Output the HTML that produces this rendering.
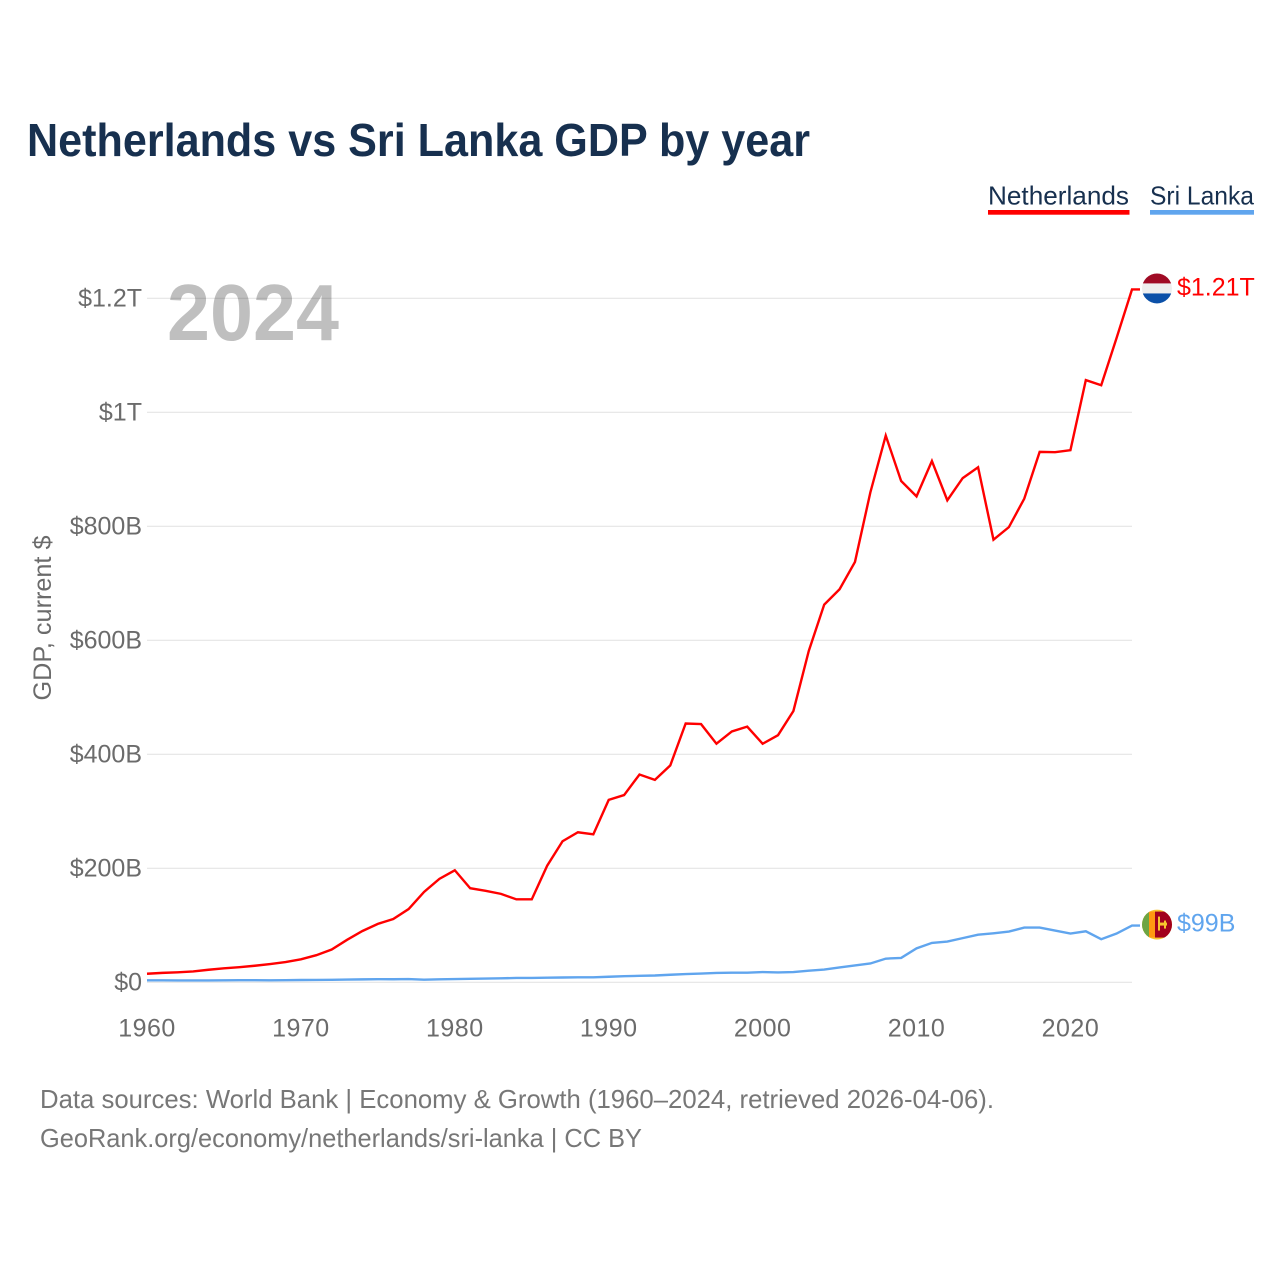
<!DOCTYPE html>
<html lang="en">
<head>
<meta charset="utf-8">
<title>Netherlands vs Sri Lanka GDP by year</title>
<style>
html,body{margin:0;padding:0;background:#fff;}
svg{display:block;font-family:"Liberation Sans",sans-serif;}
</style>
</head>
<body>
<svg id="chart" xmlns="http://www.w3.org/2000/svg" width="1280" height="1280" viewBox="0 0 1280 1280">
<defs>
<clipPath id="flag-clip"><circle cx="0" cy="0" r="15"/></clipPath>
</defs>
<rect x="0" y="0" width="1280" height="1280" fill="#ffffff"/>
<text x="27" y="156" font-size="46" font-weight="700" fill="#17304f" textLength="783" lengthAdjust="spacingAndGlyphs">Netherlands vs Sri Lanka GDP by year</text>
<g>
<g>
<text x="988" y="204.500" font-size="26" fill="#17304f" textLength="141" lengthAdjust="spacingAndGlyphs">Netherlands</text>
<rect x="988" y="210" width="141.500" height="4.700" fill="#ff0000"/>
</g>
<g>
<text x="1150" y="204.500" font-size="26" fill="#17304f" textLength="104" lengthAdjust="spacingAndGlyphs">Sri Lanka</text>
<rect x="1150" y="210" width="104" height="4.700" fill="#60a5ee"/>
</g>
</g>
<text transform="translate(51,618) rotate(-90)" text-anchor="middle" font-size="25" fill="#6b6b6b" textLength="165" lengthAdjust="spacingAndGlyphs">GDP, current $</text>
<g id="grid"></g>
<g id="y-ticks"></g>
<g id="x-ticks"></g>
<text x="167" y="340" font-size="80" font-weight="700" fill="#000000" fill-opacity="0.25" textLength="172" lengthAdjust="spacingAndGlyphs">2024</text>
<g id="series"></g>
<g id="flag-nl">
<g clip-path="url(#flag-clip)">
<rect x="-15" y="-15" width="30" height="10" fill="#a00b25"/>
<rect x="-15" y="-5" width="30" height="10" fill="#eeeeee"/>
<rect x="-15" y="5" width="30" height="10" fill="#0b50a8"/>
</g>
</g>
<g id="flag-lk">
<g clip-path="url(#flag-clip)">
<rect x="-15" y="-15" width="30" height="30" fill="#f7c52e"/>
<rect x="-15" y="-13" width="7" height="26" fill="#6da544"/>
<rect x="-8" y="-13" width="6" height="26" fill="#ff9811"/>
<rect x="-2" y="-13" width="17" height="26" fill="#a2001d"/>
<rect x="3" y="-2" width="7" height="3" fill="#f7c52e"/>
<rect x="1" y="-8" width="2" height="14" fill="#f7c52e"/>
<rect x="7" y="-4" width="2" height="8" fill="#f7c52e"/>
</g>
</g>
<g id="value-labels"></g>
<text x="40" y="1108" font-size="26" fill="#777777" textLength="954" lengthAdjust="spacingAndGlyphs">Data sources: World Bank | Economy &amp; Growth (1960–2024, retrieved 2026-04-06).</text>
<text x="40" y="1147" font-size="26" fill="#777777" textLength="602" lengthAdjust="spacingAndGlyphs">GeoRank.org/economy/netherlands/sri-lanka | CC BY</text>
</svg>
<script>
var years = [1960,1961,1962,1963,1964,1965,1966,1967,1968,1969,1970,1971,1972,1973,1974,1975,1976,1977,1978,1979,1980,1981,1982,1983,1984,1985,1986,1987,1988,1989,1990,1991,1992,1993,1994,1995,1996,1997,1998,1999,2000,2001,2002,2003,2004,2005,2006,2007,2008,2009,2010,2011,2012,2013,2014,2015,2016,2017,2018,2019,2020,2021,2022,2023,2024];
var netherlandsGdp = [14.5,16,17,18.5,21.5,24,26,28.5,31.5,35,39.8,47,57,74,89.5,102,110.5,128,158,181,196,164.5,160,154.6,145,145,204,247,262.7,259,319.5,328,364,354.6,380,453.5,452.5,418,439.5,448,418,433,475.5,581,662,689,737,859,958.6,879,852,914,845,884,903,776,798,848,930,929.5,933,1056,1047,1130,1215];
var sriLankaGdp = [3,3,2.8,2.7,2.8,3,3.1,3.2,3,3.2,3.5,3.7,3.9,4.2,4.6,4.9,4.8,5.2,4,4.7,5.2,5.6,6,6.4,7.2,7.2,7.6,7.9,8.2,8.2,9.2,10.2,10.8,11.4,12.7,14,14.8,15.9,16.4,16.4,17.4,16.7,17.5,19.8,21.8,25.5,29,32.5,41,42.3,59,68.6,71,77,83,85.5,88.5,95.5,95.5,90.2,85,89,75,85,99];
var yTickValues = [0,200,400,600,800,1000,1200];
var yTickLabels = ["$0","$200B","$400B","$600B","$800B","$1T","$1.2T"];
var xTickValues = [1960,1970,1980,1990,2000,2010,2020];
var netherlandsEndLabel = "$1.21T";
var sriLankaEndLabel = "$99B";

var SVG_NS = "http://www.w3.org/2000/svg";
function xScale(year){ return 147 + (year - 1960) * (1132 - 147) / (2024 - 1960); }
function yScale(value){ return 982 - value * (982 - 298) / 1200; }
function createSvg(tag){ return document.createElementNS(SVG_NS, tag); }

var gridGroup = document.getElementById("grid");
var yTickGroup = document.getElementById("y-ticks");
yTickValues.forEach(function(value, i){
  var line = createSvg("line");
  
  
  line.setAttribute("x1", 147);
  line.setAttribute("x2", 1132);
  line.setAttribute("y1", yScale(value) + 0.3);
  line.setAttribute("y2", yScale(value) + 0.3);
  line.setAttribute("stroke", "#e4e4e4");
  line.setAttribute("stroke-width", 1.2);
  gridGroup.appendChild(line);
  var label = createSvg("text");
  
  
  label.setAttribute("x", 142);
  label.setAttribute("y", yScale(value) + 8.5);
  label.setAttribute("text-anchor", "end");
  label.setAttribute("font-size", 25);
  label.setAttribute("fill", "#6b6b6b");
  label.textContent = yTickLabels[i];
  yTickGroup.appendChild(label);
});

var xTickGroup = document.getElementById("x-ticks");
xTickValues.forEach(function(year){
  var label = createSvg("text");
  
  
  label.setAttribute("x", xScale(year));
  label.setAttribute("y", 1036.5);
  label.setAttribute("text-anchor", "middle");
  label.setAttribute("font-size", 25);
  label.setAttribute("letter-spacing", "0.5");
  label.setAttribute("fill", "#6b6b6b");
  label.textContent = String(year);
  xTickGroup.appendChild(label);
});

function linePath(values){
  var d = "";
  for (var i = 0; i < values.length; i++) {
    d += (i === 0 ? "M" : "L") + xScale(years[i]).toFixed(2) + " " + yScale(values[i]).toFixed(2);
  }
  var last = values.length - 1;
  d += "L" + (xScale(years[last]) + 8).toFixed(2) + " " + yScale(values[last]).toFixed(2);
  return d;
}

var seriesGroup = document.getElementById("series");
var sriLankaLine = createSvg("path");


sriLankaLine.setAttribute("d", linePath(sriLankaGdp));
sriLankaLine.setAttribute("fill", "none");
sriLankaLine.setAttribute("stroke", "#60a5ee");
sriLankaLine.setAttribute("stroke-width", 2.4);
seriesGroup.appendChild(sriLankaLine);
var netherlandsLine = createSvg("path");


netherlandsLine.setAttribute("d", linePath(netherlandsGdp));
netherlandsLine.setAttribute("fill", "none");
netherlandsLine.setAttribute("stroke", "#ff0000");
netherlandsLine.setAttribute("stroke-width", 2.4);
seriesGroup.appendChild(netherlandsLine);

var lastIndex = years.length - 1;
var endX = xScale(years[lastIndex]);
var nlEndY = yScale(netherlandsGdp[lastIndex]);
var lkEndY = yScale(sriLankaGdp[lastIndex]);
document.getElementById("flag-nl").setAttribute("transform", "translate(" + (endX + 25) + "," + (nlEndY - 1) + ")");
document.getElementById("flag-lk").setAttribute("transform", "translate(" + (endX + 25) + "," + (lkEndY - 1) + ")");

var valueGroup = document.getElementById("value-labels");
var nlValueLabel = createSvg("text");


nlValueLabel.setAttribute("x", endX + 45);
nlValueLabel.setAttribute("y", nlEndY + 6);
nlValueLabel.setAttribute("font-size", 25);
nlValueLabel.setAttribute("fill", "#ff0000");
nlValueLabel.textContent = netherlandsEndLabel;
valueGroup.appendChild(nlValueLabel);
var lkValueLabel = createSvg("text");


lkValueLabel.setAttribute("x", endX + 45);
lkValueLabel.setAttribute("y", lkEndY + 6);
lkValueLabel.setAttribute("font-size", 25);
lkValueLabel.setAttribute("fill", "#60a5ee");
lkValueLabel.textContent = sriLankaEndLabel;
valueGroup.appendChild(lkValueLabel);
</script>
</body>
</html>
